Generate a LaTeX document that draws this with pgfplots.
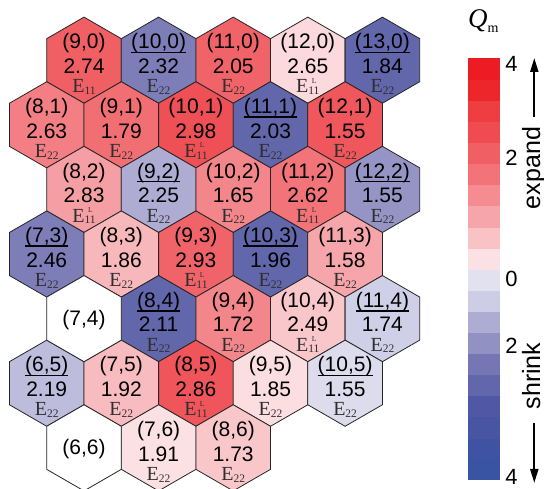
\documentclass[border=0pt]{standalone}
\usepackage{fontspec}
\setmainfont{Liberation Sans}
\newfontfamily\serif{Liberation Serif}
\usepackage{pgfplots}
\usepackage{pgfplotstable}
\pgfplotsset{compat=1.18}
\usetikzlibrary{arrows.meta}

\pgfdeclareplotmark{hexagon}{%
  \pgfpathmoveto{\pgfpointpolar{90}{\pgfplotmarksize}}%
  \pgfpathlineto{\pgfpointpolar{150}{\pgfplotmarksize}}%
  \pgfpathlineto{\pgfpointpolar{210}{\pgfplotmarksize}}%
  \pgfpathlineto{\pgfpointpolar{270}{\pgfplotmarksize}}%
  \pgfpathlineto{\pgfpointpolar{330}{\pgfplotmarksize}}%
  \pgfpathlineto{\pgfpointpolar{30}{\pgfplotmarksize}}%
  \pgfpathclose
  \pgfusepathqfillstroke
}

\newsavebox\ulbox
\newcommand\ul[1]{\sbox\ulbox{#1}\rlap{\usebox\ulbox}\raisebox{-4.3pt}{\rule{\wd\ulbox}{1.5pt}}}
\newcommand\Efont{\color{black!82}\serif\fontsize{20}{20}\selectfont}
\newcommand\Eb[1]{\raisebox{-1.7pt}{\fontsize{11.5}{11.5}\selectfont #1}}
\newcommand\EOO{{\Efont E\Eb{11}}}
\newcommand\ETT{{\Efont E\Eb{22}}}
\newcommand\EOOL{{\Efont E\rlap{\hspace{3.5pt}\raisebox{9.5pt}{\fontsize{7.5}{7.5}\selectfont L}}\Eb{11}}}
\newcommand\at[2]{\smash{\makebox[0pt]{\raisebox{#1}{#2}}}}

% n m : chirality indices; q : colour value (Qm); val : printed value;
% e : 1=E11, 2=E22, 3=E11^L; u : 1 = underlined index
\pgfplotstableread{
n m idx q val e u
9 0 (9,0) 2.2 2.74 1 0
10 0 (10,0) -1.7 2.32 2 1
11 0 (11,0) 2.1 2.05 2 0
12 0 (12,0) 0.3 2.65 3 0
13 0 (13,0) -2.2 1.84 2 1
8 1 (8,1) 1.6 2.63 2 0
9 1 (9,1) 1.9 1.79 2 0
10 1 (10,1) 2.5 2.98 3 0
11 1 (11,1) -2.2 2.03 2 1
12 1 (12,1) 2.35 1.55 2 0
8 2 (8,2) 1.1 2.83 3 0
9 2 (9,2) -1.0 2.25 2 1
10 2 (10,2) 1.5 1.65 2 0
11 2 (11,2) 1.8 2.62 3 0
12 2 (12,2) -1.35 1.55 2 1
7 3 (7,3) -1.7 2.46 2 1
8 3 (8,3) 0.75 1.86 2 0
9 3 (9,3) 2.1 2.93 3 0
10 3 (10,3) -2.2 1.96 2 1
11 3 (11,3) 1.0 1.58 2 0
8 4 (8,4) -2.2 2.11 2 1
9 4 (9,4) 1.5 1.72 2 0
10 4 (10,4) 0.55 2.49 3 0
11 4 (11,4) -0.55 1.74 2 1
6 5 (6,5) -0.8 2.19 2 1
7 5 (7,5) 0.7 1.92 2 0
8 5 (8,5) 2.4 2.86 3 0
9 5 (9,5) 0.25 1.85 2 0
10 5 (10,5) -0.3 1.55 2 1
7 6 (7,6) 0.2 1.91 2 0
8 6 (8,6) 0.55 1.73 2 0
}\hexdata

\pgfplotstableread{
n m idx
7 4 (7,4)
6 6 (6,6)
}\emptydata

\begin{document}
\begin{tikzpicture}
\begin{axis}[
  at={(0,0)}, anchor=south west,
  scale only axis, width=544pt, height=489pt,
  xmin=7.874, xmax=15.166, ymin=-5.748, ymax=0.807,
  hide axis,
  point meta min=-4, point meta max=4,
  colormap={qm}{
    rgb255(0cm)=(58,84,164) rgb255(1cm)=(58,84,164) rgb255(3cm)=(62,84,162)
    rgb255(5cm)=(72,85,162) rgb255(7cm)=(80,88,165) rgb255(9cm)=(98,102,170)
    rgb255(11cm)=(118,118,180) rgb255(13cm)=(145,145,195) rgb255(15cm)=(175,172,212)
    rgb255(17cm)=(205,205,230) rgb255(19cm)=(225,225,240) rgb255(21cm)=(252,225,228)
    rgb255(23cm)=(249,195,198) rgb255(25cm)=(246,165,170) rgb255(27cm)=(244,140,145)
    rgb255(29cm)=(242,115,120) rgb255(31cm)=(240,95,100) rgb255(33cm)=(239,75,80)
    rgb255(35cm)=(238,62,66) rgb255(37cm)=(237,38,44) rgb255(39cm)=(237,28,36)
    rgb255(40cm)=(237,28,36)
  },
  colorbar sampled,
  colorbar shift/.style={},
  colorbar style={
    at={(parent axis.north west)}, anchor=north west,
    xshift=468pt, yshift=-58pt,
    scale only axis, width=32pt, height=422pt,
    samples=21, hide axis,
  },
  every node near coord/.append style={text=black, inner sep=0pt, outer sep=0pt,
    font=\fontsize{21}{21}\selectfont},
  lab/.style={only marks, mark=*, mark size=0pt, mark options={draw=none, fill=none},
    point meta=explicit symbolic},
]
% hexagons coloured by Qm
\addplot[scatter, only marks, mark=hexagon, mark size=43.07pt,
  mark options={line width=0.8pt},
  scatter/use mapped color={draw=black!85, fill=mapped color},
  point meta=\thisrow{q},
] table[x expr=\thisrow{n}+0.5*\thisrow{m}, y expr=-0.866025*\thisrow{m}] {\hexdata};
% hexagons without data
\addplot[only marks, mark=hexagon, mark size=43.07pt,
  mark options={draw=black!85, fill=white, line width=0.8pt}]
  table[x expr=\thisrow{n}+0.5*\thisrow{m}, y expr=-0.866025*\thisrow{m}] {\emptydata};

% index labels
\addplot[lab, nodes near coords={\at{10.9pt}{\pgfplotspointmeta}}]
  table[x expr={\thisrow{u}==0 ? \thisrow{n}+0.5*\thisrow{m} : nan},
        y expr=-0.866025*\thisrow{m}, meta=idx] {\hexdata};
\addplot[lab, nodes near coords={\at{10.9pt}{\ul{\pgfplotspointmeta}}}]
  table[x expr={\thisrow{u}==1 ? \thisrow{n}+0.5*\thisrow{m} : nan},
        y expr=-0.866025*\thisrow{m}, meta=idx] {\hexdata};
\addplot[lab, nodes near coords={\at{-7.4pt}{\pgfplotspointmeta}}]
  table[x expr=\thisrow{n}+0.5*\thisrow{m},
        y expr=-0.866025*\thisrow{m}, meta=idx] {\emptydata};
% values
\addplot[lab, nodes near coords={\at{-13.8pt}{\pgfplotspointmeta}}]
  table[x expr=\thisrow{n}+0.5*\thisrow{m},
        y expr=-0.866025*\thisrow{m}, meta=val] {\hexdata};
% transition labels
\addplot[lab, nodes near coords={\at{-33.1pt}{\EOO}}]
  table[x expr={\thisrow{e}==1 ? \thisrow{n}+0.5*\thisrow{m} : nan},
        y expr=-0.866025*\thisrow{m}, meta=idx] {\hexdata};
\addplot[lab, nodes near coords={\at{-33.1pt}{\ETT}}]
  table[x expr={\thisrow{e}==2 ? \thisrow{n}+0.5*\thisrow{m} : nan},
        y expr=-0.866025*\thisrow{m}, meta=idx] {\hexdata};
\addplot[lab, nodes near coords={\at{-33.1pt}{\EOOL}}]
  table[x expr={\thisrow{e}==3 ? \thisrow{n}+0.5*\thisrow{m} : nan},
        y expr=-0.866025*\thisrow{m}, meta=idx] {\hexdata};
\end{axis}

% colour bar title, tick labels and annotations
\node[anchor=base west, inner sep=0pt] at (468pt,461pt)
  {{\serif\itshape\fontsize{27}{27}\selectfont Q}{\serif\fontsize{14}{14}\selectfont\raisebox{-5pt}{m}}};
\begin{scope}[every node/.style={inner sep=0pt, font=\fontsize{22}{22}\selectfont}]
\node at (511.5pt,425pt) {4};
\node at (511.5pt,331pt) {2};
\node at (511.5pt,210pt) {0};
\node at (511.5pt,143pt) {2};
\node at (511.5pt,12pt) {4};
\end{scope}
\node[rotate=90, anchor=base, inner sep=0pt, font=\fontsize{25}{25}\selectfont] at (540pt,321pt) {expand};
\node[rotate=90, anchor=base, inner sep=0pt, font=\fontsize{25}{25}\selectfont] at (540pt,113pt) {shrink};
\draw[line width=2pt, -{Triangle[length=14pt,width=8pt]}] (534.3pt,372pt) -- (534.3pt,431pt);
\draw[line width=2pt, -{Triangle[length=14pt,width=8pt]}] (534.3pt,66pt) -- (534.3pt,6pt);

\pgfresetboundingbox
\path[use as bounding box] (0,0) rectangle (544pt,489pt);
\end{tikzpicture}
\end{document}
